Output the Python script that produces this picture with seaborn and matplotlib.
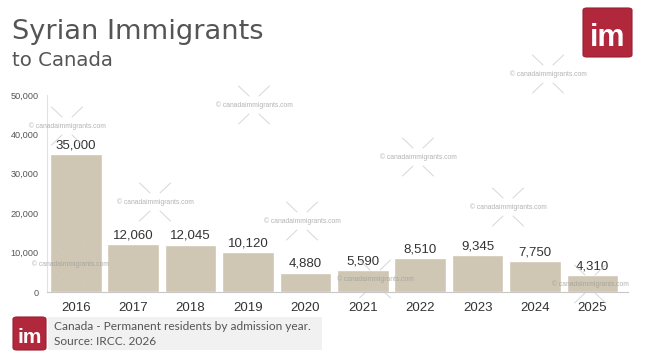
import matplotlib
matplotlib.use("Agg")
import matplotlib.pyplot as plt
import seaborn as sns
import pandas as pd
from matplotlib.patches import FancyBboxPatch, Rectangle
from matplotlib.lines import Line2D

years = ["2016", "2017", "2018", "2019", "2020", "2021", "2022", "2023", "2024", "2025"]
values = [35000, 12060, 12045, 10120, 4880, 5590, 8510, 9345, 7750, 4310]
yticks = [0, 10000, 20000, 30000, 40000, 50000]
title_line1 = "Syrian Immigrants"
title_line2 = "to Canada"
note_line1 = "Canada - Permanent residents by admission year."
note_line2 = "Source: IRCC. 2026"
watermark = "\u00a9 canadaimmigrants.com"

sns.set_theme(style="white")
plt.rcParams["font.family"] = ["Liberation Sans", "DejaVu Sans"]

W, H = 645, 363
fig = plt.figure(figsize=(W / 100, H / 100), dpi=100)
ax = fig.add_axes([47 / W, (H - 292) / H, 581 / W, 197 / H])

df = pd.DataFrame({"year": years, "value": values})
sns.barplot(data=df, x="year", y="value", color="#cfc7b3", saturation=1,
            width=0.9, ax=ax, zorder=2)
ax.set_xlim(-0.5, 9.62)
ax.set_ylim(0, 50000)
ax.set_yticks(yticks)
ax.set_yticklabels([f"{v:,}" for v in yticks])
ax.set_xlabel("")
ax.set_ylabel("")
ax.tick_params(axis="y", length=0, pad=6, labelsize=6.6, labelcolor="#555555")
ax.tick_params(axis="x", length=0, pad=7, labelsize=9.5, labelcolor="#333333")
for s in ["top", "right"]:
    ax.spines[s].set_visible(False)
ax.spines["left"].set_color("#e2e2e2")
ax.spines["left"].set_linewidth(0.8)
ax.spines["bottom"].set_color("#c8c8c8")
ax.spines["bottom"].set_linewidth(0.8)

for i, v in enumerate(values):
    ax.annotate(f"{v:,}", (i, v), xytext=(0, 2), textcoords="offset points",
                ha="center", va="bottom", fontsize=9.5, color="#333333")

def fx(px):
    return px / W

def fy(py):
    return 1 - py / H

# title
fig.text(fx(12), fy(39), title_line1, fontsize=19.6, color="#555555",
         family=["DejaVu Sans"], va="baseline")
fig.text(fx(12), fy(66), title_line2, fontsize=14.2, color="#555555",
         family=["DejaVu Sans"], va="baseline")

# logos
def logo(x0, y0, size, fs):
    p = FancyBboxPatch((fx(x0), fy(y0 + size)), size / W, size / H,
                       boxstyle=f"round,pad=0,rounding_size={4 / W}",
                       transform=fig.transFigure, facecolor="#b1283c",
                       edgecolor="#9a1f31", linewidth=0.8, zorder=5)
    fig.add_artist(p)
    fig.text(fx(x0 + size / 2), fy(y0 + size * 0.62), "im", ha="center",
             va="center", color="white", fontsize=fs, fontweight="bold",
             zorder=6)

logo(583, 8, 49, 22)
logo(13, 317, 33, 15)

# note box
fig.add_artist(Rectangle((fx(48), fy(350)), (322 - 48) / W, 33 / H,
                         transform=fig.transFigure, facecolor="#f1f1f1",
                         edgecolor="none", zorder=1))
fig.text(fx(54), fy(330), note_line1, fontsize=8.6, color="#555555",
         family=["Lato", "DejaVu Sans"], va="baseline", zorder=3)
fig.text(fx(54), fy(345), note_line2, fontsize=8.6, color="#555555",
         family=["Lato", "DejaVu Sans"], va="baseline", zorder=3)

# watermarks
wm_pos = [(67, 126), (70, 264), (155, 202), (254, 105), (302, 221),
          (375, 279), (418, 157), (548, 74), (508, 207), (590, 284)]
for cx, cy in wm_pos:
    fig.text(fx(cx), fy(cy), watermark, fontsize=4.9, color="#9a9a9a",
             alpha=0.75, ha="center", va="center", zorder=4)
    for sx in (-1, 1):
        for sy in (-1, 1):
            fig.add_artist(Line2D([fx(cx + sx * 5), fx(cx + sx * 15.5)],
                                  [fy(cy + sy * 9), fy(cy + sy * 19)],
                                  transform=fig.transFigure, color="#cccccc",
                                  linewidth=0.7, alpha=0.8, zorder=4))

fig.savefig("out.png", dpi=100)
